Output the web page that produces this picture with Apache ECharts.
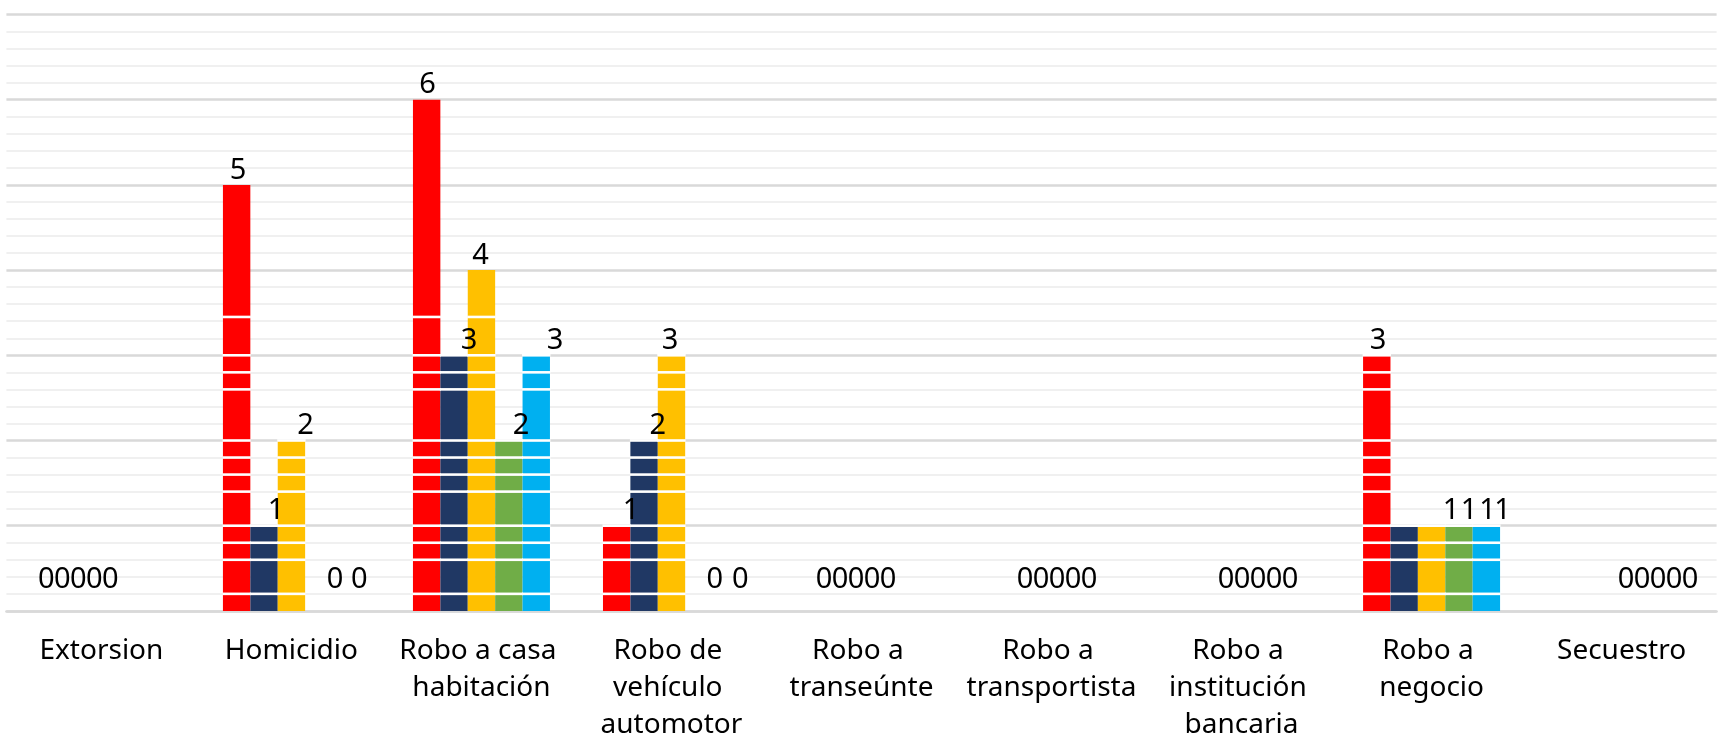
<!DOCTYPE html>
<html>
<head>
<meta charset="utf-8">
<script src="https://cdn.jsdelivr.net/npm/echarts@6/dist/echarts.min.js"></script>
<style>
html,body{margin:0;padding:0;background:#fff;}
#chart{width:1720px;height:743px;}
</style>
</head>
<body>
<div id="chart"></div>
<script>
// ---- data ----
const categories = ['Extorsion', 'Homicidio', 'Robo a casa habitación', 'Robo de vehículo automotor',
  'Robo a transeúnte', 'Robo a transportista', 'Robo a institución bancaria', 'Robo a negocio', 'Secuestro'];
const seriesA = [0, 5, 6, 1, 0, 0, 0, 3, 0];
const seriesB = [0, 1, 3, 2, 0, 0, 0, 1, 0];
const seriesC = [0, 2, 4, 3, 0, 0, 0, 1, 0];
const seriesD = [0, 0, 2, 0, 0, 0, 0, 1, 0];
const seriesE = [0, 0, 3, 0, 0, 0, 0, 1, 0];
const yTicks = [0, 1, 2, 3, 4, 5, 6, 7];

// ---- styles ----
const colors = ['#FF0000', '#203864', '#FFC000', '#70AD47', '#00B0F0'];
const BAR_W = 27.4;
// horizontal nudges of the data labels (px), per category / series
const labelNudge = [
  [-0.3, -11.7, -23.1, -34.5, -45.9],
  [1.4, 12, 14, 16.2, 13.1],
  [0.9, 15, -0.9, 12.2, 18.8],
  [14.3, 13.6, -1.5, 16, 14],
  [17.3, 5.9, -5.5, -16.9, -28.3],
  [28.3, 16.9, 5.5, -5.9, -17.3],
  [39.3, 27.9, 16.5, 5.1, -6.3],
  [1.2, 46.8, 37.4, 28.7, 16.3],
  [59.2, 47.8, 36.4, 25, 13.6]
];
// white rendering stripes across bars (value levels)
const stripeLevels = [0.2, 0.6, 0.8, 1.0, 1.4, 1.6, 1.8, 2.0, 2.6, 2.8, 3.0, 3.45];

const allSeries = [seriesA, seriesB, seriesC, seriesD, seriesE];
const FONT = "'Noto Sans', 'DejaVu Sans', sans-serif";

const barSeries = allSeries.map((vals, i) => ({
  type: 'bar',
  barWidth: BAR_W,
  barGap: '0%',
  z: 2,
  itemStyle: { color: colors[i] },
  data: vals.map((v, k) => ({
    value: v,
    label: {
      show: true,
      position: 'top',
      distance: 0,
      offset: [labelNudge[k][i], v === 0 ? -17 : 0],
      fontSize: 29,
      lineHeight: 29,
      fontFamily: FONT,
      color: '#000'
    }
  }))
}));

const stripeData = [];
allSeries.forEach((vals, i) => vals.forEach((v, k) => { if (v > 0) stripeData.push([k, i, v]); }));

const stripeSeries = {
  type: 'custom',
  z: 3,
  silent: true,
  encode: { x: 0, y: 2 },
  data: stripeData,
  renderItem: function (params, api) {
    const k = api.value(0), i = api.value(1), v = api.value(2);
    const c = api.coord([k, 0]);
    const left = c[0] - 2.5 * BAR_W + i * BAR_W;
    const children = [];
    stripeLevels.forEach(L => {
      if (L <= v + 1e-6) {
        const y = api.coord([k, L])[1];
        children.push({ type: 'rect', shape: { x: left - 0.5, y: y - 1.3, width: BAR_W + 1, height: 2.6 }, style: { fill: '#fff' } });
      }
    });
    return { type: 'group', children: children };
  }
};

const chart = echarts.init(document.getElementById('chart'), null, { renderer: 'canvas' });
chart.setOption({
  animation: false,
  backgroundColor: '#fff',
  grid: { left: 6.4, right: 3.4, top: 14.5, bottom: 130, containLabel: false },
  xAxis: {
    type: 'category',
    data: categories,
    axisTick: { show: false },
    axisLine: { show: true, lineStyle: { color: '#d9d9d9', width: 2.5 } },
    axisLabel: {
      interval: 0,
      margin: 22,
      width: 185,
      overflow: 'break',
      fontSize: 28,
      lineHeight: 36.7,
      fontFamily: FONT,
      color: '#000'
    }
  },
  yAxis: {
    type: 'value',
    min: yTicks[0],
    max: yTicks[yTicks.length - 1],
    interval: 1,
    axisLabel: { show: false },
    axisLine: { show: false },
    axisTick: { show: false },
    splitLine: { show: true, lineStyle: { color: '#d9d9d9', width: 2.5 } },
    minorTick: { show: false, splitNumber: 5 },
    minorSplitLine: { show: true, lineStyle: { color: '#f0f0f0', width: 2 } }
  },
  series: barSeries.concat([stripeSeries])
});
</script>
</body>
</html>
